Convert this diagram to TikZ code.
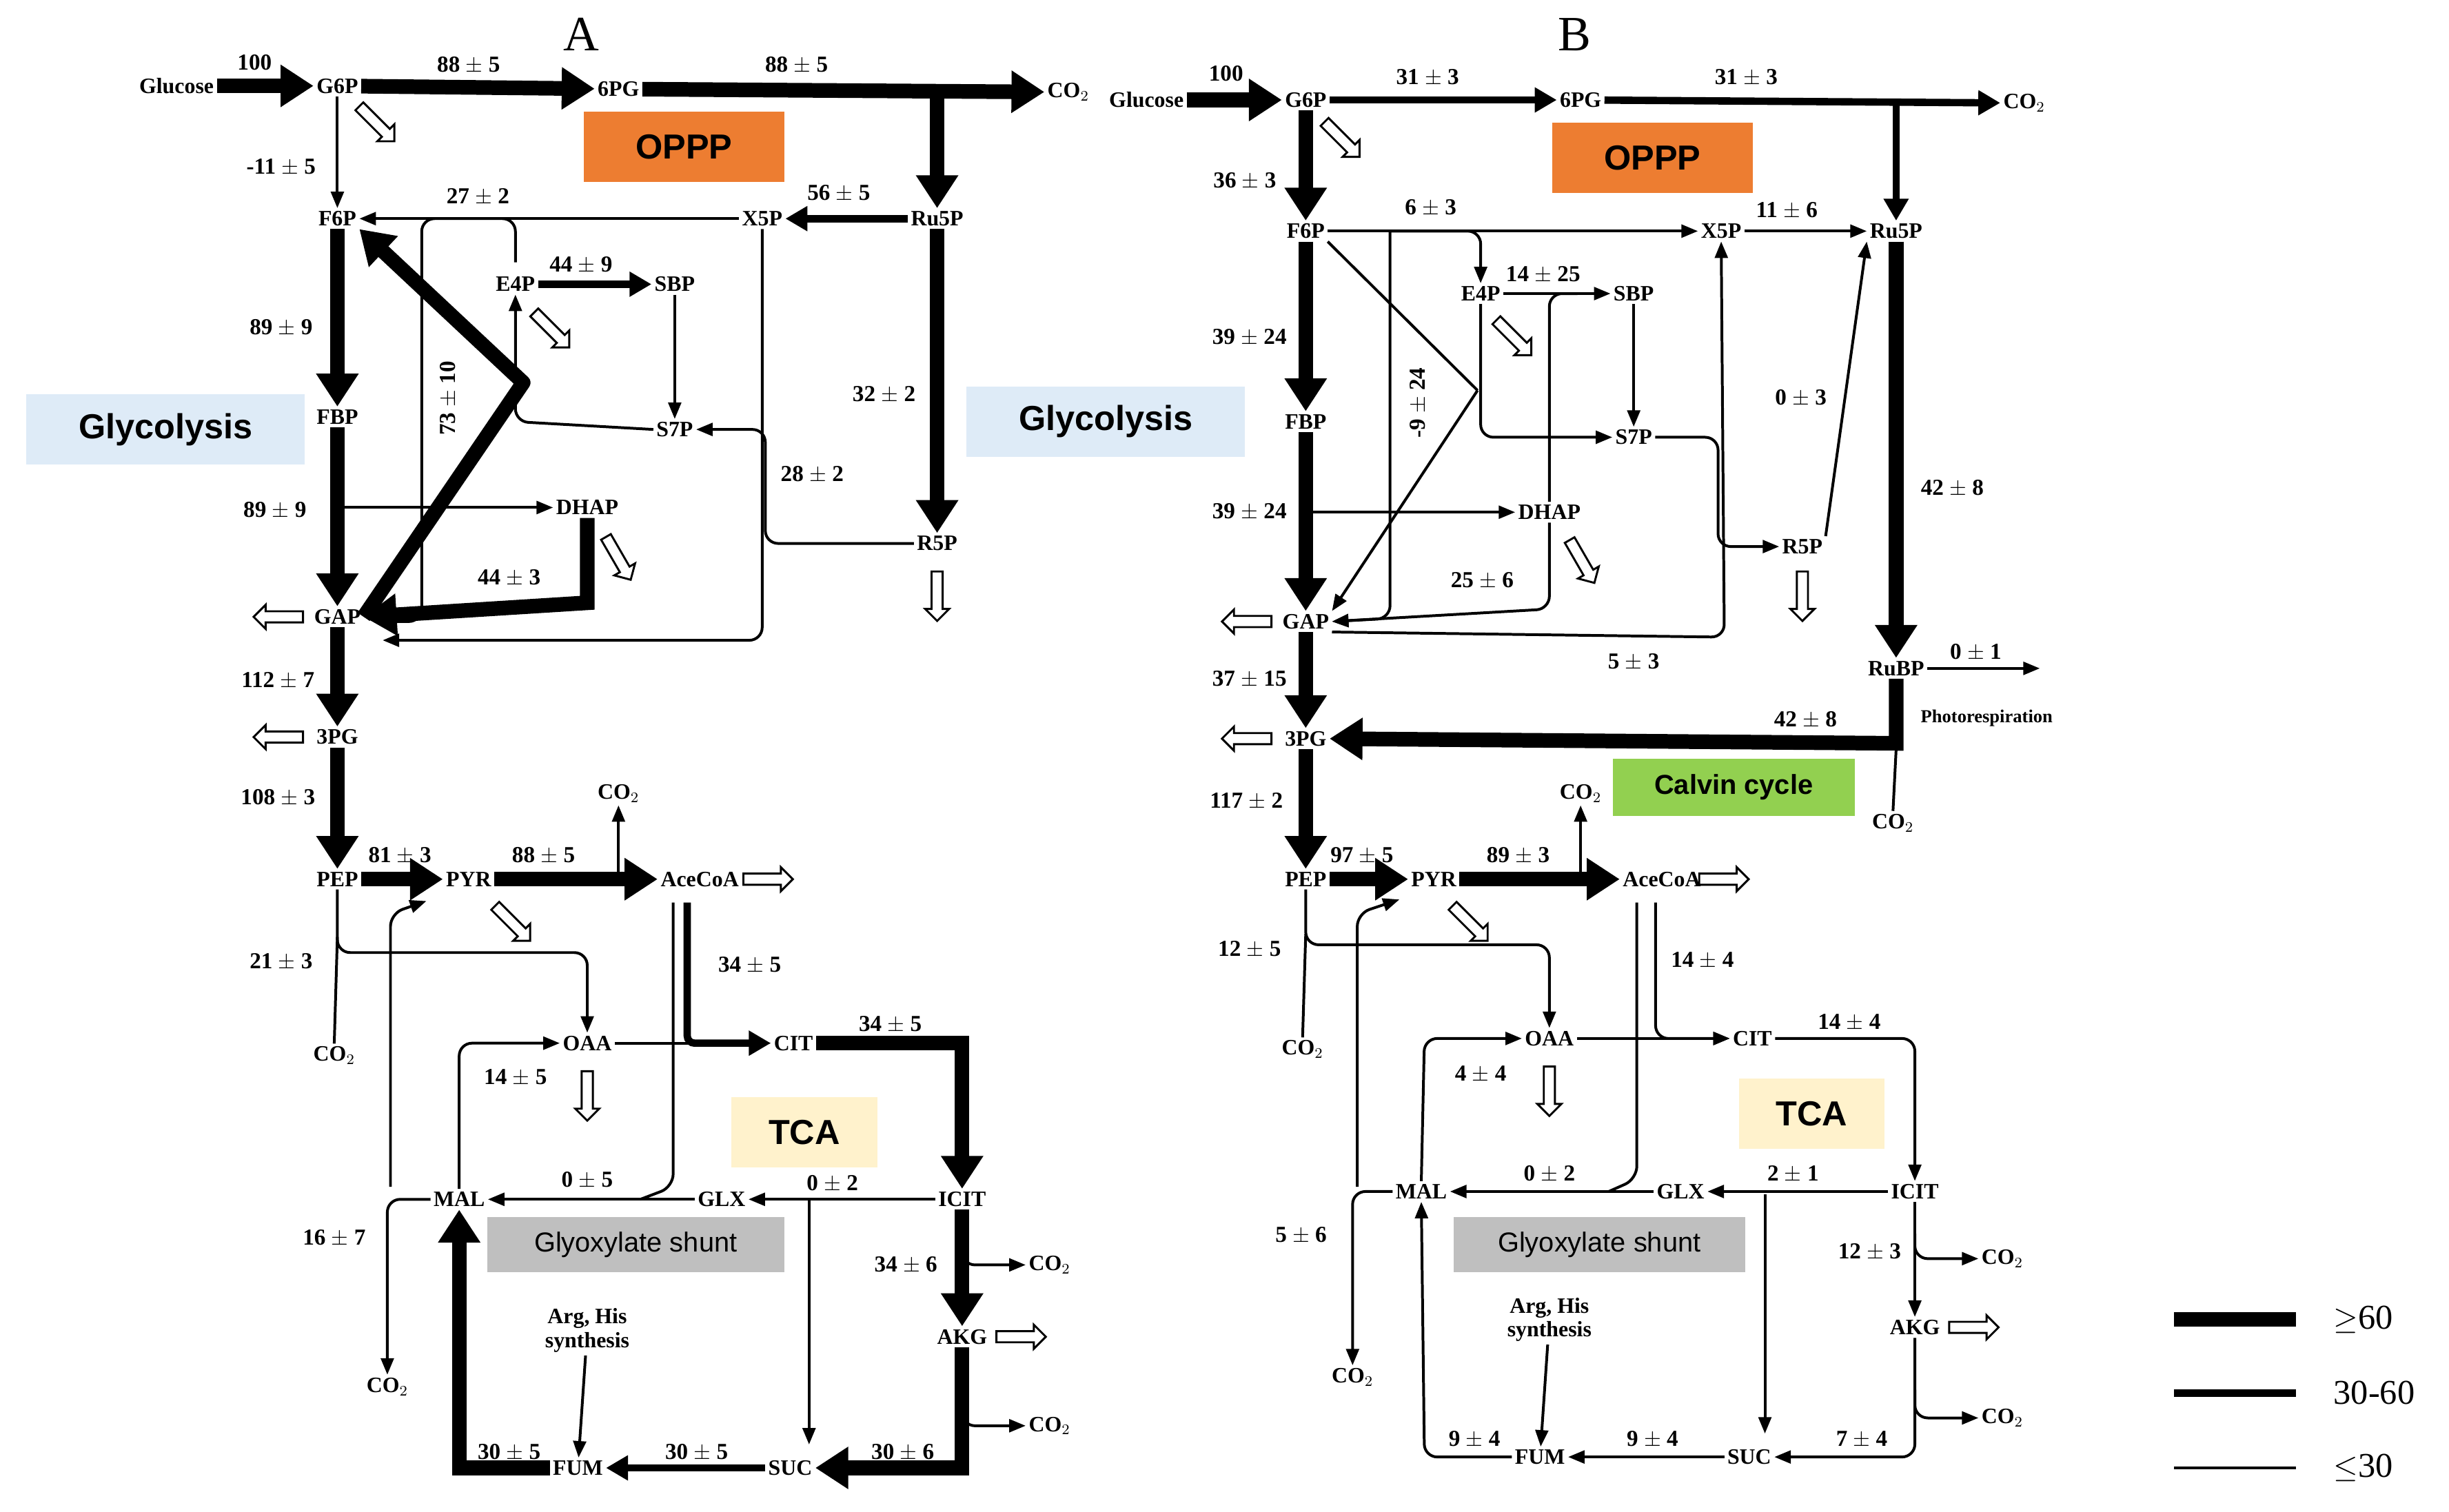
\documentclass[tikz,border=0pt]{standalone}
\usepackage{fontspec}
\setmainfont{Liberation Serif}
\newfontfamily\boxfont{Liberation Sans}
\usetikzlibrary{arrows.meta,shapes.arrows}
\definecolor{opppcol}{RGB}{237,125,49}
\definecolor{glycol}{RGB}{222,235,247}
\definecolor{tcacol}{RGB}{255,242,204}
\definecolor{glxcol}{RGB}{191,191,191}
\definecolor{calvcol}{RGB}{146,208,80}
\tikzset{
  met/.style={font=\bfseries\fontsize{12}{13}\selectfont, inner sep=1.5pt},
  flux/.style={font=\bfseries\fontsize{12.5}{13}\selectfont, inner sep=1pt},
  hi/.style={line width=8pt, -{Triangle[length=18pt,width=22pt]}},
  mid/.style={line width=4pt, -{Triangle[length=12pt,width=13pt]}},
  lo/.style={line width=1.5pt, rounded corners=7pt, -{Triangle[length=9pt,width=7pt]}},
  plain/.style={line width=1.5pt, rounded corners=7pt},
  openarr/.style={single arrow, draw, line width=1.1pt, fill=white, inner sep=2.5pt,
    single arrow head extend=3.5pt, minimum height=0.95cm},
  tag/.style={font=\boxfont\bfseries\fontsize{19}{21}\selectfont, inner sep=0pt,
    minimum height=1.35cm},
}
\begin{document}
\begin{tikzpicture}[x=0.03cm,y=-0.03cm]
  \useasboundingbox (0,0) rectangle (1568,968);

  % coloured pathway tags
  \node[tag, fill=opppcol, minimum width=3.85cm] (opppA) at (438,94) {OPPP};
  \node[tag, fill=glycol, minimum width=5.35cm] (glyA) at (106,275) {Glycolysis};
  \node[tag, fill=tcacol, minimum width=2.8cm] (tcaA) at (515,725) {TCA};
  \node[tag, fill=glxcol, minimum width=5.7cm, minimum height=1.05cm,
    font=\boxfont\fontsize{15}{17}\selectfont] (shuntA) at (407,797) {Glyoxylate shunt};
  \node[tag, fill=opppcol, minimum width=3.85cm] (opppB) at (1058,101) {OPPP};
  \node[tag, fill=glycol, minimum width=5.35cm] (glyB) at (708,270) {Glycolysis};
  \node[tag, fill=tcacol, minimum width=2.8cm] (tcaB) at (1160,713) {TCA};
  \node[tag, fill=glxcol, minimum width=5.6cm, minimum height=1.05cm,
    font=\boxfont\fontsize{15}{17}\selectfont] (shuntB) at (1024,797) {Glyoxylate shunt};
  \node[tag, fill=calvcol, minimum width=4.65cm, minimum height=1.1cm,
    font=\boxfont\bfseries\fontsize{15}{17}\selectfont] (calvB) at (1110,504) {Calvin cycle};

  \node[font=\fontsize{27}{29}\selectfont] (labA) at (372,22) {A};
  \node[font=\fontsize{27}{29}\selectfont] (labB) at (1008,22) {B};

  % panel A
  \node[met] (gluA) at (113,55) {Glucose};
  \node[met] (g6pA) at (216,55) {G6P};
  \node[met] (pgA) at (396,57) {6PG};
  \node[met] (co2aA) at (684,59) {CO$_2$};
  \node[met] (f6pA) at (216,140) {F6P};
  \node[met] (x5pA) at (488,140) {X5P};
  \node[met] (ru5pA) at (600,140) {Ru5P};
  \node[met] (e4pA) at (330,182) {E4P};
  \node[met] (sbpA) at (432,182) {SBP};
  \node[met] (s7pA) at (432,275) {S7P};
  \node[met] (fbpA) at (216,267) {FBP};
  \node[met] (dhapA) at (376,325) {DHAP};
  \node[met] (r5pA) at (600,348) {R5P};
  \node[met] (gapA) at (216,395) {GAP};
  \node[met] (pg3A) at (216,472) {3PG};
  \node[met] (pepA) at (216,563) {PEP};
  \node[met] (pyrA) at (300,563) {PYR};
  \node[met] (accA) at (448,563) {AceCoA};
  \node[met] (co2bA) at (396,508) {CO$_2$};
  \node[met] (co2cA) at (214,676) {CO$_2$};
  \node[met] (oaaA) at (376,668) {OAA};
  \node[met] (citA) at (508,668) {CIT};
  \node[met] (icitA) at (616,768) {ICIT};
  \node[met] (glxA) at (462,768) {GLX};
  \node[met] (malA) at (294,768) {MAL};
  \node[met] (akgA) at (616,856) {AKG};
  \node[met] (sucA) at (506,940) {SUC};
  \node[met] (fumA) at (370,940) {FUM};
  \node[met] (co2dA) at (672,810) {CO$_2$};
  \node[met] (co2eA) at (672,913) {CO$_2$};
  \node[met] (co2fA) at (248,888) {CO$_2$};
  \node[met, align=center] (argA) at (376,852) {Arg, His\\synthesis};

  \draw[hi] (gluA) -- (g6pA);
  \draw[hi] (g6pA) -- (pgA);
  \draw[hi] (pgA) -- (co2aA);
  \draw[hi] (pgA -| ru5pA) -- (ru5pA);
  \draw[lo] (g6pA) -- (f6pA);
  \draw[mid] (ru5pA) -- (x5pA);
  \draw[lo] (x5pA.west) -- (f6pA.east);
  \draw[hi] (f6pA) -- (fbpA);
  \draw[hi] (fbpA) -- (gapA);
  \draw[lo] (fbpA |- dhapA) -- (dhapA);
  \draw[mid] (e4pA) -- (sbpA);
  \draw[lo] (sbpA) -- (s7pA);
  \draw[plain] (330,168) -- (330,140) -- (270,140) -- (270,398) -- (250,398);
  \draw[lo] (s7pA.west) -- (330,270) -- (e4pA.south);
  \draw[hi, line join=round] (gapA.east) -- (335,245) -- (f6pA.south east);
  \draw[hi] (dhapA.south) -- (376,386) -- (gapA.east);
  \draw[hi] (ru5pA) -- (r5pA);
  \draw[lo] (r5pA.west) -- (490,348) -- (490,275) -- (s7pA.east);
  \draw[lo] (x5pA.south) -- (488,410) -- (245,410);
  \draw[hi] (gapA) -- (pg3A);
  \draw[hi] (pg3A) -- (pepA);
  \draw[hi] (pepA) -- (pyrA);
  \draw[hi] (pyrA) -- (accA);
  \draw[lo] (co2bA |- accA) -- (co2bA);
  \draw[lo] (pepA.south) -- (216,610) -- (376,610) -- (oaaA.north);
  \draw[plain] (co2cA.north) -- (216,600);
  \draw[mid, rounded corners=4pt] (440,578) -- (440,668) -- (citA.west);
  \draw[lo] (oaaA) -- (citA);
  \draw[hi] (citA.east) -- (616,668) -- (icitA.north);
  \draw[lo] (malA.north) -- (294,668) -- (oaaA.west);
  \draw[lo] (icitA) -- (glxA);
  \draw[lo] (glxA) -- (malA);
  \draw[plain] (431,578) -- (431,760) -- (410,768);
  \draw[lo] (518,768) -- (518,925);
  \draw[hi] (icitA) -- (akgA);
  \draw[lo] (616,798) |- (co2dA.west);
  \draw[hi] (akgA.south) -- (616,940) -- (sucA.east);
  \draw[lo] (616,898) |- (co2eA.west);
  \draw[mid] (sucA) -- (fumA);
  \draw[hi] (fumA.west) -- (294,940) -- (malA.south);
  \draw[lo] (argA) -- (fumA);
  \draw[lo] (malA.west) -| (co2fA.north);
  \draw[lo] (250,760) -- (250,585) -- (273,577);

  \foreach \p/\r in {{240,78}/-45,{352,210}/-45,{395,356}/-60,{600,380}/-90,
      {180,395}/180,{180,472}/180,{327,590}/-45,{490,563}/0,{376,700}/-90,{652,856}/0}
    \node[openarr, rotate=\r] at (\p) {};

  \foreach \p/\t [count=\i] in {{163,40}/100,{300,42}/88 $\pm$ 5,{510,42}/88 $\pm$ 5,
      {180,107}/-11 $\pm$ 5,{537,124}/56 $\pm$ 5,{306,126}/27 $\pm$ 2,{372,170}/44 $\pm$ 9,
      {180,210}/89 $\pm$ 9,{566,253}/32 $\pm$ 2,{520,304}/28 $\pm$ 2,{176,327}/89 $\pm$ 9,
      {326,370}/44 $\pm$ 3,{178,436}/112 $\pm$ 7,{178,511}/108 $\pm$ 3,{256,548}/81 $\pm$ 3,
      {348,548}/88 $\pm$ 5,{180,616}/21 $\pm$ 3,{480,618}/34 $\pm$ 5,{570,656}/34 $\pm$ 5,
      {330,690}/14 $\pm$ 5,{376,756}/0 $\pm$ 5,{533,758}/0 $\pm$ 2,{580,810}/34 $\pm$ 6,
      {214,793}/16 $\pm$ 7,{578,930}/30 $\pm$ 6,{446,930}/30 $\pm$ 5,{326,930}/30 $\pm$ 5}
    \node[flux] (fA\i) at (\p) {\t};
  \node[flux, rotate=90] (rotA) at (287,255) {73 $\pm$ 10};

  % panel B
  \node[met] (gluB) at (734,64) {Glucose};
  \node[met] (g6pB) at (836,64) {G6P};
  \node[met] (pgB) at (1012,64) {6PG};
  \node[met] (co2aB) at (1296,66) {CO$_2$};
  \node[met] (f6pB) at (836,148) {F6P};
  \node[met] (x5pB) at (1102,148) {X5P};
  \node[met] (ru5pB) at (1214,148) {Ru5P};
  \node[met] (e4pB) at (948,188) {E4P};
  \node[met] (sbpB) at (1046,188) {SBP};
  \node[met] (s7pB) at (1046,280) {S7P};
  \node[met] (fbpB) at (836,270) {FBP};
  \node[met] (dhapB) at (992,328) {DHAP};
  \node[met] (r5pB) at (1154,350) {R5P};
  \node[met] (gapB) at (836,398) {GAP};
  \node[met] (rubpB) at (1214,428) {RuBP};
  \node[met, font=\bfseries\fontsize{10}{11}\selectfont] (photoB) at (1272,460) {Photorespiration};
  \node[met] (pg3B) at (836,473) {3PG};
  \node[met] (co2gB) at (1212,527) {CO$_2$};
  \node[met] (pepB) at (836,563) {PEP};
  \node[met] (pyrB) at (918,563) {PYR};
  \node[met] (accB) at (1064,563) {AceCoA};
  \node[met] (co2bB) at (1012,508) {CO$_2$};
  \node[met] (co2cB) at (834,672) {CO$_2$};
  \node[met] (oaaB) at (992,665) {OAA};
  \node[met] (citB) at (1122,665) {CIT};
  \node[met] (icitB) at (1226,763) {ICIT};
  \node[met] (glxB) at (1076,763) {GLX};
  \node[met] (malB) at (910,763) {MAL};
  \node[met] (akgB) at (1226,850) {AKG};
  \node[met] (sucB) at (1120,933) {SUC};
  \node[met] (fumB) at (986,933) {FUM};
  \node[met] (co2dB) at (1282,806) {CO$_2$};
  \node[met] (co2eB) at (1282,908) {CO$_2$};
  \node[met] (co2fB) at (866,882) {CO$_2$};
  \node[met, align=center] (argB) at (992,845) {Arg, His\\synthesis};
  \coordinate (prB) at (1306,428);

  \draw[hi] (gluB) -- (g6pB);
  \draw[mid] (g6pB) -- (pgB);
  \draw[mid] (pgB) -- (co2aB);
  \draw[mid] (pgB -| ru5pB) -- (ru5pB);
  \draw[hi] (g6pB) -- (f6pB);
  \draw[lo] (f6pB.east) -- (x5pB.west);
  \draw[lo] (x5pB) -- (ru5pB);
  \draw[lo] (890,148) -- (890,396) -- (gapB.east);
  \draw[lo] (890,148) -- (948,148) -- (e4pB.north);
  \draw[lo] (e4pB) -- (sbpB);
  \draw[lo] (sbpB) -- (s7pB);
  \draw[plain] (dhapB.north) -- (992,188) -- (1010,188);
  \draw[hi] (f6pB) -- (fbpB);
  \draw[hi] (fbpB) -- (gapB);
  \draw[lo] (fbpB |- dhapB) -- (dhapB);
  \draw[plain] (f6pB.south east) -- (946,250);
  \draw[lo] (e4pB.south) -- (948,280) -- (s7pB.west);
  \draw[lo] (946,250) -- (gapB.north east);
  \draw[lo] (dhapB.south) -- (992,390) -- (gapB.east);
  \draw[lo] (s7pB.east) -- (1100,280) -- (1100,350) -- (r5pB.west);
  \draw[lo] (gapB.south east) -- (1104,408) -- (x5pB.south);
  \draw[lo] (r5pB.north east) -- (ru5pB.south west);
  \draw[hi] (ru5pB) -- (rubpB);
  \draw[lo] (rubpB.east) -- (prB);
  \draw[hi] (rubpB.south) -- (1214,476) -- (pg3B.east);
  \draw[plain] (1214,480) -- (co2gB.north);
  \draw[hi] (gapB) -- (pg3B);
  \draw[hi] (pg3B) -- (pepB);
  \draw[hi] (pepB) -- (pyrB);
  \draw[hi] (pyrB) -- (accB);
  \draw[lo] (co2bB |- accB) -- (co2bB);
  \draw[lo] (pepB.south) -- (836,605) -- (992,605) -- (oaaB.north);
  \draw[plain] (co2cB.north) -- (836,598);
  \draw[lo] (1060,578) -- (1060,665) -- (citB.west);
  \draw[lo] (oaaB) -- (citB);
  \draw[lo] (citB.east) -- (1226,665) -- (icitB.north);
  \draw[lo] (malB.north) -- (912,665) -- (oaaB.west);
  \draw[lo] (icitB) -- (glxB);
  \draw[lo] (glxB) -- (malB);
  \draw[plain] (1048,578) -- (1048,755) -- (1030,763);
  \draw[lo] (1130,765) -- (1130,918);
  \draw[lo] (icitB) -- (akgB);
  \draw[lo] (1226,790) |- (co2dB.west);
  \draw[lo] (akgB.south) -- (1226,933) -- (sucB.east);
  \draw[lo] (1226,890) |- (co2eB.west);
  \draw[lo] (sucB) -- (fumB);
  \draw[lo] (fumB.west) -- (912,933) -- (malB.south);
  \draw[lo] (argB) -- (fumB);
  \draw[lo] (malB.west) -| (co2fB.north);
  \draw[lo] (869,760) -- (869,585) -- (896,576);

  \foreach \p/\r in {{858,88}/-45,{968,215}/-45,{1012,358}/-60,{1154,380}/-90,
      {800,398}/180,{800,473}/180,{940,590}/-45,{1102,563}/0,{992,697}/-90,{1262,850}/0}
    \node[openarr, rotate=\r] at (\p) {};

  \foreach \p/\t [count=\i] in {{785,47}/100,{914,50}/31 $\pm$ 3,{1118,50}/31 $\pm$ 3,
      {797,116}/36 $\pm$ 3,{916,133}/6 $\pm$ 3,{1144,135}/11 $\pm$ 6,{988,176}/14 $\pm$ 25,
      {800,216}/39 $\pm$ 24,{1153,255}/0 $\pm$ 3,{1250,313}/42 $\pm$ 8,{800,328}/39 $\pm$ 24,
      {949,372}/25 $\pm$ 6,{1046,424}/5 $\pm$ 3,{1265,418}/0 $\pm$ 1,{1156,461}/42 $\pm$ 8,
      {800,435}/37 $\pm$ 15,{798,513}/117 $\pm$ 2,{872,548}/97 $\pm$ 5,{972,548}/89 $\pm$ 3,
      {800,608}/12 $\pm$ 5,{1090,615}/14 $\pm$ 4,{1184,655}/14 $\pm$ 4,{948,688}/4 $\pm$ 4,
      {1148,752}/2 $\pm$ 1,{992,752}/0 $\pm$ 2,{1197,802}/12 $\pm$ 3,{833,791}/5 $\pm$ 6,
      {1192,922}/7 $\pm$ 4,{1058,922}/9 $\pm$ 4,{944,922}/9 $\pm$ 4}
    \node[flux] (fB\i) at (\p) {\t};
  \node[flux, rotate=90] (rotB) at (908,258) {-9 $\pm$ 24};

  % legend
  \coordinate (lg1) at (1392,845); \coordinate (lg2) at (1470,845);
  \coordinate (lg3) at (1392,892); \coordinate (lg4) at (1470,892);
  \coordinate (lg5) at (1392,940); \coordinate (lg6) at (1470,940);
  \draw[line width=8pt] (lg1) -- (lg2);
  \draw[line width=4pt] (lg3) -- (lg4);
  \draw[line width=1.5pt] (lg5) -- (lg6);
  \node[font=\fontsize{19}{21}\selectfont, anchor=west] (lgt1) at (1490,845) {$\geq$60};
  \node[font=\fontsize{19}{21}\selectfont, anchor=west] (lgt2) at (1490,892) {30-60};
  \node[font=\fontsize{19}{21}\selectfont, anchor=west] (lgt3) at (1490,940) {$\leq$30};
\end{tikzpicture}
\end{document}
